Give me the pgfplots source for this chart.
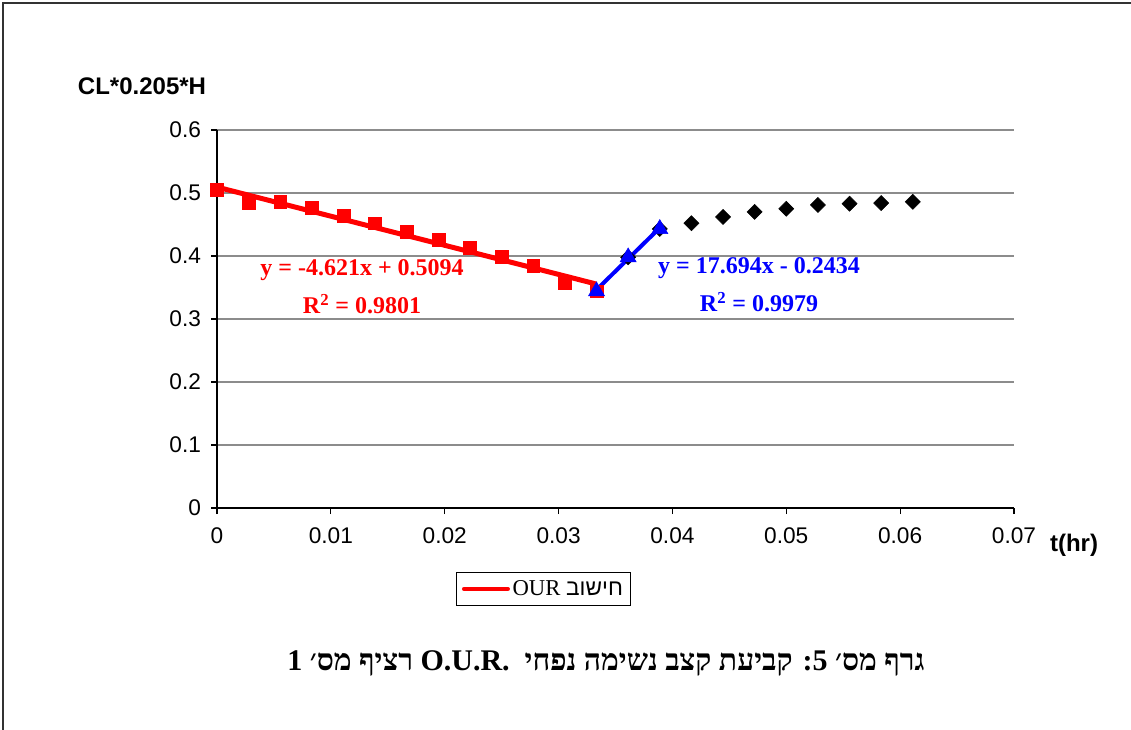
\documentclass[border=0pt]{standalone}
\usepackage{fontspec}
\setmainfont{Liberation Sans}
\newfontfamily\tnr{Liberation Serif}
\newfontfamily\heb[Script=Hebrew]{Liberation Serif}
\newfontfamily\hebsans[Script=Hebrew]{Liberation Sans}
\TeXXeTstate=1
\usepackage{pgfplots}
\pgfplotsset{compat=1.18}
\definecolor{eqred}{RGB}{255,0,0}
\definecolor{eqblue}{RGB}{0,0,255}
\begin{document}
\begin{tikzpicture}[x=0.75pt,y=0.75pt]
\path[use as bounding box] (0,0) rectangle (1131,729);
\draw[line width=1.2pt,black!80] (3,-5) -- (3,726) -- (1140,726);
\begin{axis}[
  at={(162.75pt,165.75pt)}, anchor=south west,
  scale only axis, width=597.75pt, height=283.5pt,
  xmin=0, xmax=0.07, ymin=0, ymax=0.6,
  scaled x ticks=false, scaled y ticks=false,
  axis x line=bottom, axis y line=left, axis line style={-, line width=1pt},
  xtick={0,0.01,0.02,0.03,0.04,0.05,0.06,0.07},
  xticklabels={0,0.01,0.02,0.03,0.04,0.05,0.06,0.07},
  ytick={0,0.1,0.2,0.3,0.4,0.5,0.6},
  yticklabels={0,0.1,0.2,0.3,0.4,0.5,0.6},
  tick align=outside, major tick length=4.5pt,
  tick style={black, line width=0.8pt},
  ymajorgrids, grid style={gray!90, line width=0.8pt},
  ticklabel style={font=\fontsize{17}{20}\selectfont},
  xticklabel style={yshift=-7pt},
  yticklabel style={xshift=-4pt},
  clip=false,
  legend style={at={(0.41,-0.214)}, anchor=center, draw=black, line width=0.8pt,
    font=\tnr\fontsize{17}{20}\selectfont, inner xsep=4pt, inner ysep=4pt},
  legend cell align=left,
]
\addplot[only marks, mark=square*, mark size=4pt, mark options={rotate=45, fill=black, draw=black}, forget plot] coordinates {
(0.036111,0.398) (0.038889,0.443) (0.041667,0.452) (0.044444,0.462) (0.047222,0.470)
(0.05,0.475) (0.052778,0.481) (0.055556,0.483) (0.058333,0.484) (0.061111,0.486)};
\addplot[only marks, mark=square*, mark size=4.8pt, mark options={fill=eqred, draw=eqred}, forget plot] coordinates {
(0,0.505) (0.002778,0.485) (0.005556,0.486) (0.008333,0.476) (0.011111,0.464)
(0.013889,0.452) (0.016667,0.439) (0.019444,0.426) (0.022222,0.413) (0.025,0.399)
(0.027778,0.385) (0.030556,0.358) (0.033333,0.344)};
\addplot[eqred, line width=3.75pt, no marks,
  legend image code/.code={\draw[eqred, line width=3pt, line cap=round] (0pt,0pt) -- (33pt,0pt);}]
  coordinates {(0,0.5094) (0.033333,0.3554)};
\addlegendentry{OUR {\hebsans\beginR חישוב\endR}}
\addplot[only marks, mark=triangle*, mark size=7pt, mark options={fill=eqblue, draw=eqblue}, forget plot] coordinates {
(0.033333,0.344) (0.036111,0.398) (0.038889,0.443)};
\addplot[eqblue, line width=3pt, no marks, forget plot]
  coordinates {(0.033333,0.3464) (0.038889,0.4447)};
\end{axis}
\node[font=\bfseries\fontsize{18}{21}\selectfont, anchor=center] at (142,643) {CL*0.205*H};
\node[font=\bfseries\fontsize{18}{21}\selectfont, anchor=center] at (1074,184) {t(hr)};
\node[font=\tnr\bfseries\fontsize{18}{21}\selectfont, text=eqred] at (362,459) {y = -4.621x + 0.5094};
\node[font=\tnr\bfseries\fontsize{18}{21}\selectfont, text=eqred] at (362,425) {R\textsuperscript{2} = 0.9801};
\node[font=\tnr\bfseries\fontsize{18}{21}\selectfont, text=eqblue] at (759,461) {y = 17.694x - 0.2434};
\node[font=\tnr\bfseries\fontsize{18}{21}\selectfont, text=eqblue] at (759,427) {R\textsuperscript{2} = 0.9979};
\node[font=\heb\bfseries\fontsize{22.5}{26}\selectfont] at (606,66) {\beginR גרף מס׳ 5: קביעת קצב נשימה נפחי\ \ \beginL O.U.R.\endL{} רציף מס׳ 1\endR};
\end{tikzpicture}
\end{document}
